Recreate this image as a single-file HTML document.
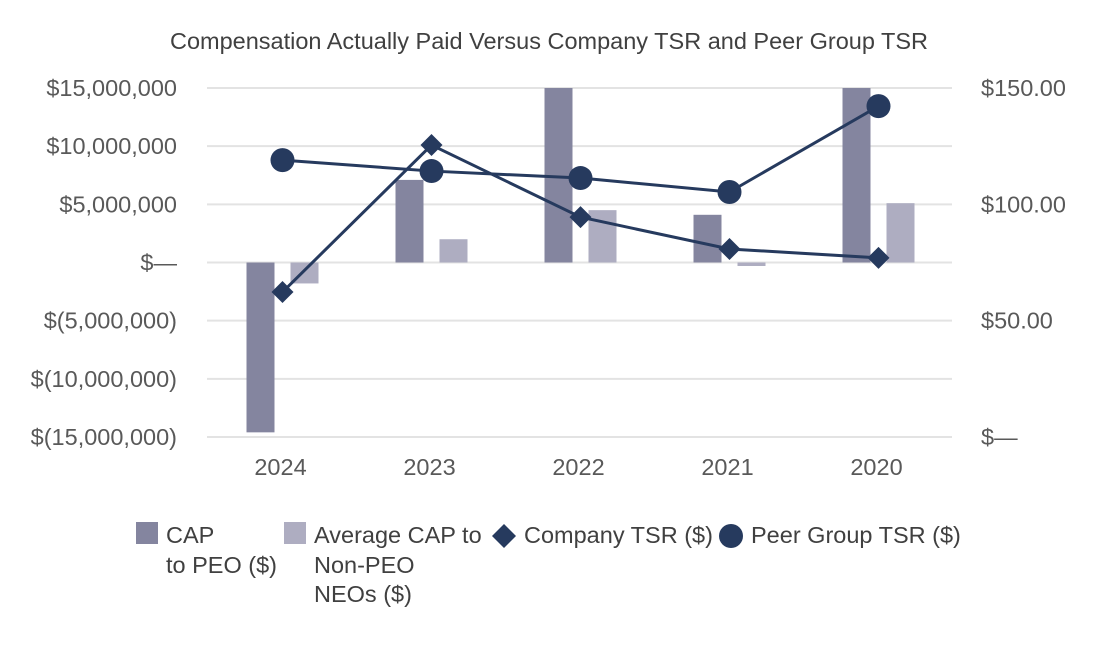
<!DOCTYPE html>
<html><head><meta charset="utf-8"><style>
body{margin:0;background:#fff;}
svg text{font-family:"Liberation Sans",Arial,sans-serif;}
</style></head><body>
<svg width="1100" height="650" viewBox="0 0 1100 650" xmlns="http://www.w3.org/2000/svg">
<text x="549" y="49" text-anchor="middle" font-size="23.5" fill="#404040">Compensation Actually Paid Versus Company TSR and Peer Group TSR</text>
<g id="grid"></g><g id="bars"></g><g id="lines"></g><g id="axes"></g>
<g font-size="23.5" fill="#404040">
<rect x="136" y="522" width="22" height="22" fill="#84859f"/>
<text x="166" y="543">CAP</text>
<text x="166" y="573">to PEO ($)</text>
<rect x="284" y="522" width="22" height="22" fill="#aeadc1"/>
<text x="314" y="543">Average CAP to</text>
<text x="314" y="573">Non-PEO</text>
<text x="314" y="602">NEOs ($)</text>
<path d="M504 524 L516 536 L504 548 L492 536 Z" fill="#263a5e"/>
<text x="524" y="543">Company TSR ($)</text>
<circle cx="731" cy="536" r="12" fill="#263a5e"/>
<text x="751" y="543">Peer Group TSR ($)</text>
</g>
</svg>
<script>
const categories=["2024","2023","2022","2021","2020"];
const capPeo=[-14.6e6,7.1e6,15e6,4.1e6,15e6];
const capNeo=[-1.8e6,2.0e6,4.5e6,-0.3e6,5.1e6];
const companyTsr=[62.3,125.5,94.5,80.8,77];
const peerTsr=[119,114.3,111.3,105.3,142.2];
const leftTicks=[15e6,10e6,5e6,0,-5e6,-10e6,-15e6];
const leftLabels=["$15,000,000","$10,000,000","$5,000,000","$—","$(5,000,000)","$(10,000,000)","$(15,000,000)"];
const rightTicks=[150,100,50,0];
const rightLabels=["$150.00","$100.00","$50.00","$—"];
const NS="http://www.w3.org/2000/svg";
const x0=207,x1=952,yTop=88,yBot=437;
const yL=v=>yTop+(15e6-v)/30e6*(yBot-yTop);
const yR=v=>yBot-v/150*(yBot-yTop);
const band=(x1-x0)/categories.length;
const xc=i=>x0+band*(i+0.5);
function mk(t,a,p){const e=document.createElementNS(NS,t);for(const k in a)e.setAttribute(k,a[k]);p.appendChild(e);return e;}
const G=document.getElementById('grid'),B=document.getElementById('bars'),L=document.getElementById('lines'),A=document.getElementById('axes');
leftTicks.forEach((v,i)=>{
 const l=mk('line',{x1:x0,x2:x1,y1:yL(v),y2:yL(v),stroke:'#e3e3e3','stroke-width':2},G);
 
 
 const t=mk('text',{x:177,y:yL(v)+8,'text-anchor':'end','font-size':23.5,fill:'#595959'},A);
 t.textContent=leftLabels[i];
 
 
});
rightTicks.forEach((v,i)=>{
 const t=mk('text',{x:981,y:yR(v)+8,'font-size':23.5,fill:'#595959'},A);
 t.textContent=rightLabels[i];
 
 
});
categories.forEach((c,i)=>{
 const t=mk('text',{x:xc(i)-1,y:475,'text-anchor':'middle','font-size':23.5,fill:'#595959'},A);
 t.textContent=c;
 
 
 [[capPeo,-35,'#84859f','bar-cap-peo'],[capNeo,9,'#aeadc1','bar-cap-neo']].forEach(([arr,off,col,nm])=>{
  const y=yL(Math.max(arr[i],0)),h=Math.abs(yL(arr[i])-yL(0));
  const r=mk('rect',{x:xc(i)+off,y:y,width:28,height:h,fill:col},B);
  
  
 });
});
function series(arr,nm,marker){
 const pts=arr.map((v,i)=>[xc(i)+1,yR(v)]);
 const p=mk('polyline',{points:pts.map(q=>q.join(',')).join(' '),fill:'none',stroke:'#263a5e','stroke-width':3},L);
 
 
 pts.forEach(([x,y])=>{
  let m;
  if(marker==='d') m=mk('path',{d:`M${x} ${y-11}L${x+11} ${y}L${x} ${y+11}L${x-11} ${y}Z`,fill:'#263a5e'},L);
  else m=mk('circle',{cx:x,cy:y,r:12,fill:'#263a5e'},L);
  
  
 });
}
series(companyTsr,'company-tsr','d');
series(peerTsr,'peer-tsr','c');
</script>
</body></html>
